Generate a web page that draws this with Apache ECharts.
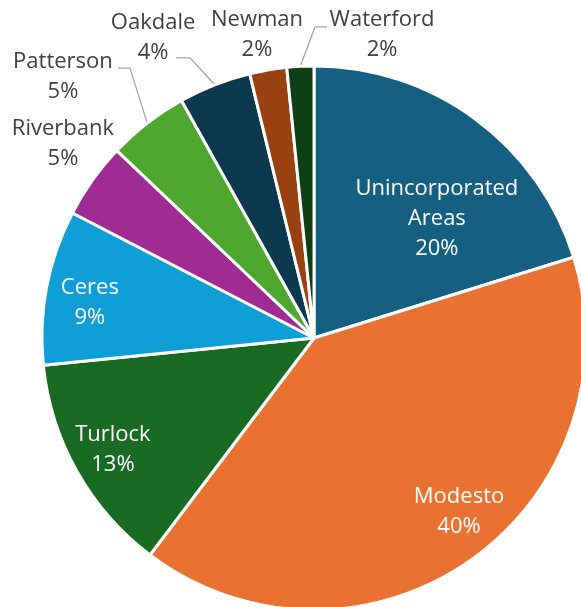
<!DOCTYPE html>
<html><head><meta charset="utf-8">
<script src="https://cdn.jsdelivr.net/npm/echarts@6/dist/echarts.min.js"></script>
<style>html,body{margin:0;padding:0;background:#fff}#c{width:581px;height:607px}</style>
</head><body><div id="c"></div>
<script>
const categories = ['Unincorporated Areas', 'Modesto', 'Turlock', 'Ceres', 'Riverbank', 'Patterson', 'Oakdale', 'Newman', 'Waterford'];
const shares = [20.2, 40.1, 13.1, 9.2, 4.5, 4.8, 4.3, 2.2, 1.6];
const colors = ['#156082', '#E97132', '#196B24', '#0F9ED5', '#A02B93', '#4EA72E', '#0D394E', '#994111', '#0F4015'];

const CX = 314, CY = 338, R = 272;
// label placement: polar angle (deg clockwise from 12 o'clock) and radius fraction for label centre
const labelPlace = {
  'Unincorporated Areas': {a: 45.9, k: 0.629},
  'Modesto': {a: 140.2, k: 0.833},
  'Turlock': {a: 240.9, k: 0.846},
  'Ceres': {a: 278.9, k: 0.834},
  'Riverbank': {a: 307.8, k: 1.168},
  'Patterson': {a: 316.1, k: 1.331, lead: [55, -9, 67]},
  'Oakdale': {a: 331.8, k: 1.252, lead: [23, 20, 37]},
  'Newman': {a: 349.35, k: 1.134},
  'Waterford': {a: 12.65, k: 1.142, lead: [-55, -8, -67]}
};
const FONT = '"Open Sans", "DejaVu Sans", sans-serif';

const chart = echarts.init(document.getElementById('c'), null, {renderer: 'canvas'});
const data = categories.map((name, i) => {
  const p = labelPlace[name];
  const inside = p.k < 1;
  return {
    name, value: shares[i],
    itemStyle: {color: colors[i]},
    label: {position: inside ? 'inside' : 'outside'},
    labelLine: {show: !!p.lead}
  };
});

chart.setOption({
  animation: false,
  backgroundColor: '#ffffff',
  series: [{
    type: 'pie',
    center: [CX, CY],
    radius: [0, R],
    startAngle: 90,
    clockwise: true,
    percentPrecision: 0,
    avoidLabelOverlap: false,
    itemStyle: {borderColor: '#ffffff', borderWidth: 3},
    label: {
      show: true,
      formatter: (prm) => {
        const inside = labelPlace[prm.name].k < 1;
        const st = inside ? 'w' : 'g';
        const lines = prm.name.length > 14 ? prm.name.split(' ') : [prm.name];
        lines.push(prm.percent + '%');
        return lines.map(l => '{' + st + '|' + l + '}').join('\n');
      },
      rich: {
        w: {color: '#ffffff', fontSize: 22, lineHeight: 30, fontFamily: FONT, align: 'center'},
        g: {color: '#404040', fontSize: 22, lineHeight: 30, fontFamily: FONT, align: 'center'}
      }
    },
    labelLine: {
      show: true, length: 10, length2: 10, smooth: false,
      lineStyle: {color: '#A6A6A6', width: 1.3}
    },
    emphasis: {disabled: true},
    labelLayout: (params) => {
      const name = categories[params.dataIndex];
      const p = labelPlace[name];
      const rad = p.a * Math.PI / 180;
      const x = CX + R * p.k * Math.sin(rad);
      const y = CY - R * p.k * Math.cos(rad);
      const out = {x: x, y: y, align: 'center', verticalAlign: 'middle'};
      if (p.lead) {
        let s = params.labelLinePoints && params.labelLinePoints[0];
        if (!s) {
          const total = shares.reduce((a, b) => a + b, 0);
          let cum = 0;
          for (let i = 0; i < params.dataIndex; i++) cum += shares[i];
          const mid = (cum + shares[params.dataIndex] / 2) / total * 2 * Math.PI;
          s = [CX + R * Math.sin(mid), CY - R * Math.cos(mid)];
        }
        out.labelLinePoints = [s, [x + p.lead[2], y + p.lead[1]], [x + p.lead[0], y + p.lead[1]]];
      }
      return out;
    },
    data: data
  }]
});
</script>
</body></html>
